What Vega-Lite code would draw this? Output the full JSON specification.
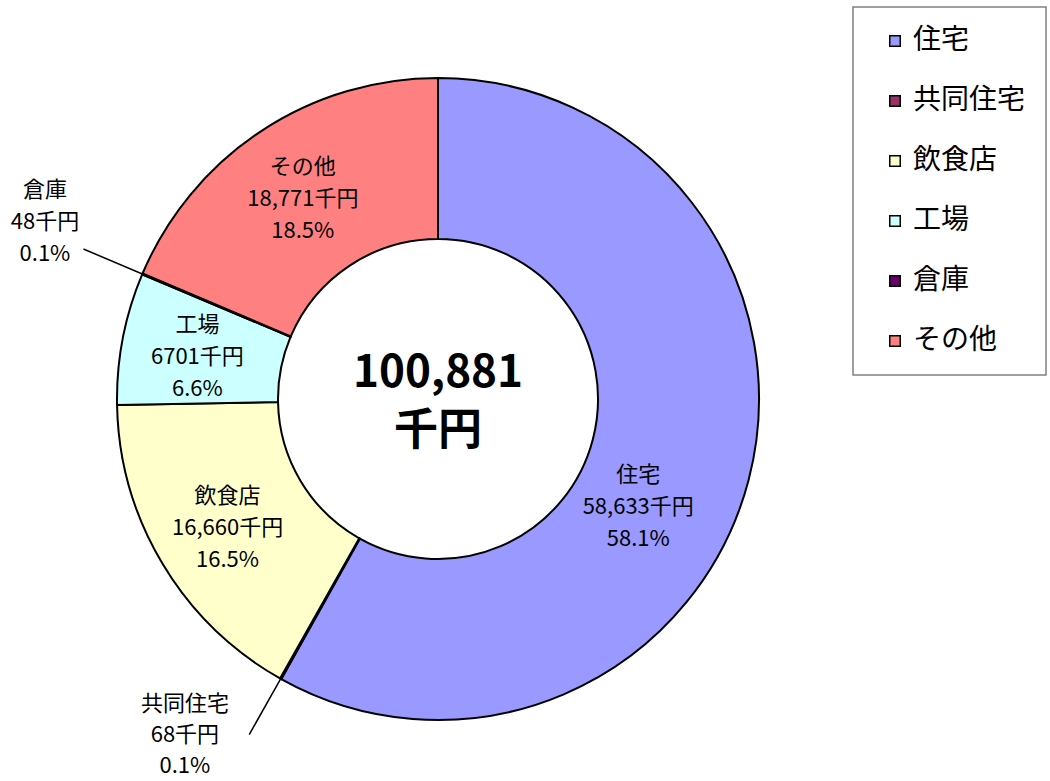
{
  "$schema": "https://vega.github.io/schema/vega-lite/v6.json",
  "width": 876,
  "height": 798,
  "padding": 0,
  "background": "white",
  "config": {
    "view": {"stroke": null},
    "font": "Noto Sans CJK JP",
    "legend": {
      "symbolType": "square",
      "symbolSize": 110,
      "symbolStrokeColor": "black",
      "symbolStrokeWidth": 1.5,
      "symbolOpacity": 1,
      "labelFontSize": 28,
      "labelFont": "Noto Sans CJK JP",
      "labelColor": "black",
      "rowPadding": 32,
      "padding": 20,
      "symbolOffset": 8,
      "labelOffset": 4,
      "strokeColor": "#808080",
      "fillColor": "white",
      "strokeWidth": 1.5
    }
  },
  "data": {
    "values": [
      {"idx": 1, "name": "住宅", "value": 58633, "amount": "58,633千円", "pct": "58.1%"},
      {"idx": 2, "name": "共同住宅", "value": 68, "amount": "68千円", "pct": "0.1%"},
      {"idx": 3, "name": "飲食店", "value": 16660, "amount": "16,660千円", "pct": "16.5%"},
      {"idx": 4, "name": "工場", "value": 6701, "amount": "6701千円", "pct": "6.6%"},
      {"idx": 5, "name": "倉庫", "value": 48, "amount": "48千円", "pct": "0.1%"},
      {"idx": 6, "name": "その他", "value": 18771, "amount": "18,771千円", "pct": "18.5%"}
    ]
  },
  "transform": [
    {"stack": "value", "groupby": [], "sort": [{"field": "idx", "order": "ascending"}], "as": ["s0", "s1"]},
    {"calculate": "(datum.s0 + datum.s1) / 2", "as": "mid"},
    {"calculate": "[datum.name, datum.amount, datum.pct]", "as": "label"}
  ],
  "layer": [
    {
      "mark": {"type": "arc", "radius": 321, "radius2": 160, "stroke": "black", "strokeWidth": 2},
      "encoding": {
        "theta": {"field": "s0", "type": "quantitative", "stack": null, "scale": {"domain": [0, 100881], "zero": true, "nice": false}},
        "theta2": {"field": "s1"},
        "color": {
          "field": "name",
          "type": "nominal",
          "scale": {
            "domain": ["住宅", "共同住宅", "飲食店", "工場", "倉庫", "その他"],
            "range": ["#9999FF", "#993366", "#FFFFCC", "#CCFFFF", "#660066", "#FF8080"]
          },
          "legend": {
            "title": null,
            "orient": "none",
            "legendX": 853,
            "legendY": 7
          }
        }
      }
    },
    {
      "transform": [{"filter": "datum.name === '共同住宅' || datum.name === '倉庫'"}],
      "mark": {"type": "arc", "radius": 385, "radius2": 321, "stroke": "black", "strokeWidth": 1.5, "fill": null},
      "encoding": {
        "theta": {"field": "mid", "type": "quantitative", "stack": null, "scale": {"domain": [0, 100881], "zero": true, "nice": false}},
        "theta2": {"field": "mid"}
      }
    },
    {
      "transform": [{"filter": "datum.name === '飲食店' || datum.name === '工場' || datum.name === 'その他'"}],
      "mark": {"type": "text", "radius": 245, "dy": -28, "fontSize": 22, "lineHeight": 32, "align": "center", "baseline": "middle", "color": "black"},
      "encoding": {
        "theta": {"field": "mid", "type": "quantitative", "stack": null, "scale": {"domain": [0, 100881], "zero": true, "nice": false}},
        "text": {"field": "label"}
      }
    },
    {
      "transform": [{"filter": "datum.name === '住宅'"}],
      "mark": {"type": "text", "radius": 240, "dx": -32, "dy": 15, "fontSize": 22, "lineHeight": 32, "align": "center", "baseline": "middle", "color": "black"},
      "encoding": {
        "theta": {"field": "mid", "type": "quantitative", "stack": null, "scale": {"domain": [0, 100881], "zero": true, "nice": false}},
        "text": {"field": "label"}
      }
    },
    {
      "transform": [{"filter": "datum.name === '倉庫'"}],
      "mark": {"type": "text", "radius": 430, "dx": 3, "dy": -41, "fontSize": 22, "lineHeight": 32, "align": "center", "baseline": "middle", "color": "black"},
      "encoding": {
        "theta": {"field": "mid", "type": "quantitative", "stack": null, "scale": {"domain": [0, 100881], "zero": true, "nice": false}},
        "text": {"field": "label"}
      }
    },
    {
      "transform": [{"filter": "datum.name === '共同住宅'"}],
      "mark": {"type": "text", "radius": 400, "dx": -57, "dy": -44, "fontSize": 22, "lineHeight": 31, "align": "center", "baseline": "middle", "color": "black"},
      "encoding": {
        "theta": {"field": "mid", "type": "quantitative", "stack": null, "scale": {"domain": [0, 100881], "zero": true, "nice": false}},
        "text": {"field": "label"}
      }
    },
    {
      "transform": [
        {"aggregate": [{"op": "sum", "field": "value", "as": "total"}]},
        {"calculate": "[format(datum.total, ','), '千円']", "as": "center"}
      ],
      "mark": {"type": "text", "dy": -25, "fontSize": 44, "fontWeight": "bold", "lineHeight": 58, "align": "center", "baseline": "middle", "color": "black"},
      "encoding": {
        "text": {"field": "center"}
      }
    }
  ]
}
